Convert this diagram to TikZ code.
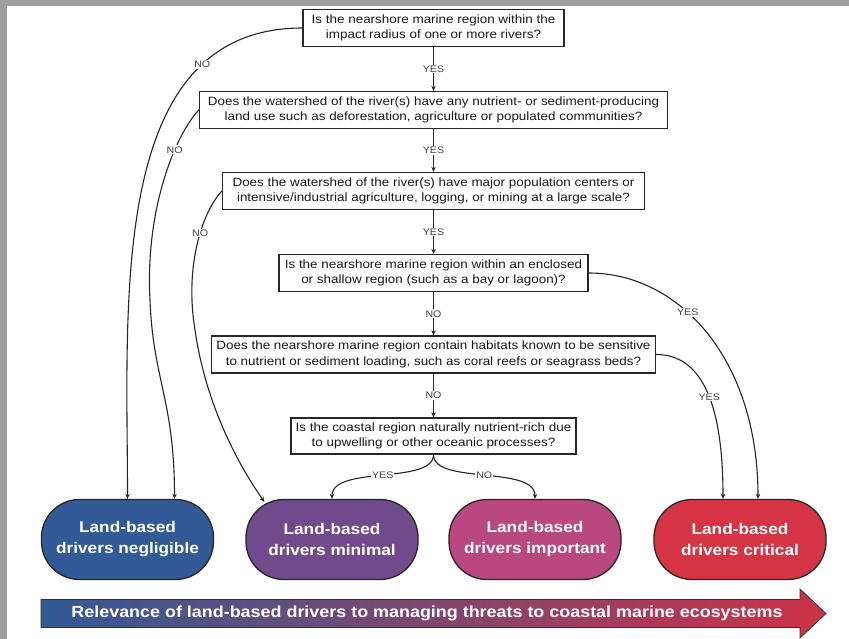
\documentclass[tikz,border=0pt]{standalone}
\usepackage{fontspec}
\setmainfont[FakeStretch=1.12]{Liberation Sans}
\usetikzlibrary{arrows.meta,calc}
\definecolor{framegray}{RGB}{158,158,158}
\definecolor{tblue}{RGB}{50,90,150}
\definecolor{tpurple}{RGB}{112,74,140}
\definecolor{tpink}{RGB}{186,72,128}
\definecolor{tred}{RGB}{213,52,68}
\definecolor{barmid}{RGB}{112,64,122}
\definecolor{barright}{RGB}{205,50,70}
\begin{document}
\begin{tikzpicture}[x=1pt,y=-1pt,
  qbox/.style={draw=black!85, line width=1.3pt, fill=white, align=center,
    minimum height=37pt, inner sep=2pt, text=black!90,
    font=\fontsize{12}{15.5}\selectfont},
  term/.style={draw=black!85, line width=1.3pt, rounded corners=38pt,
    minimum width=172pt, minimum height=80pt, align=center, text=white,
    font=\bfseries\fontsize{15.4}{21}\selectfont},
  lab/.style={fill=white, inner sep=1pt, text=black!75,
    font=\fontsize{9.5}{10}\selectfont},
  arr/.style={line width=1.1pt, draw=black!85, -{Stealth[length=5pt,width=4.5pt]}}]
\fill[framegray] (0,0) rectangle (849,639);
\fill[white] (7,6) rectangle (849,639);
\useasboundingbox (0,0) rectangle (849,639);

% question boxes
\node[qbox, minimum width=261pt] (b1) at (433.5,28)
  {Is the nearshore marine region within the\\impact radius of one or more rivers?};
\node[qbox, minimum width=468pt] (b2) at (433.5,110)
  {Does the watershed of the river(s) have any nutrient- or sediment-producing\\land use such as deforestation, agriculture or populated communities?};
\node[qbox, minimum width=422pt] (b3) at (433.5,191)
  {Does the watershed of the river(s) have major population centers or\\intensive/industrial agriculture, logging, or mining at a large scale?};
\node[qbox, minimum width=309pt] (b4) at (433.5,273)
  {Is the nearshore marine region within an enclosed\\or shallow region (such as a bay or lagoon)?};
\node[qbox, minimum width=444pt] (b5) at (433.5,354.5)
  {Does the nearshore marine region contain habitats known to be sensitive\\to nutrient or sediment loading, such as coral reefs or seagrass beds?};
\node[qbox, minimum width=285pt, minimum height=36pt] (b6) at (433.5,436)
  {Is the coastal region naturally nutrient-rich due\\to upwelling or other oceanic processes?};

% terminals
\node[term, fill=tblue] (t1) at (127.5,539.5) {Land-based\\drivers negligible};
\node[term, fill=tpurple] (t2) at (332,539.5) {Land-based\\drivers minimal};
\node[term, fill=tpink] (t3) at (535,539.5) {Land-based\\drivers important};
\node[term, fill=tred] (t4) at (740,539.5) {Land-based\\drivers critical};

\coordinate (t1b) at ($(t1.north)+(47,0)$);
\coordinate (t2in) at ($(t2.north west)+(19,3)$);
\coordinate (t4a) at ($(t4.north)+(-17,0)$);
\coordinate (t4b) at ($(t4.north)+(18,0)$);

% vertical connectors
\draw[arr] (b1.south) -- node[lab]{YES} (b2.north);
\draw[arr] (b2.south) -- node[lab]{YES} (b3.north);
\draw[arr] (b3.south) -- node[lab]{YES} (b4.north);
\draw[arr] (b4.south) -- node[lab]{NO} (b5.north);
\draw[arr] (b5.south) -- node[lab]{NO} (b6.north);

% curved connectors
\draw[arr] (b1.west) .. controls (107,28) and (127.5,303) .. (t1.north)
  node[lab, pos=0.22]{NO};
\draw[arr] (b2.west) .. controls (175,135) and (145,210) .. (150,300)
  node[lab, pos=0.33]{NO}
  .. controls (153,380) and (174.5,400) .. (t1b);
\draw[arr] (b3.west) .. controls (200,215) and (185,270) .. (195,330)
  node[lab, pos=0.4]{NO}
  .. controls (205,400) and (235,460) .. (t2in);
\draw[arr] (b4.east) .. controls (680,273) and (758,360) .. (t4b)
  node[lab, pos=0.4]{YES};
\draw[arr] (b5.east) .. controls (700,354.5) and (723,400) .. (t4a)
  node[lab, pos=0.55]{YES};
\draw[arr] (b6.south) .. controls (433.5,485) and (332,465) .. (t2.north)
  node[lab, pos=0.5]{YES};
\draw[arr] (b6.south) .. controls (433.5,485) and (535,465) .. (t3.north)
  node[lab, pos=0.5]{NO};

% bottom gradient arrow
\shadedraw[left color=tblue, middle color=barmid, right color=barright,
  draw=black!80, line width=0.8pt]
  (41,599.5) -- (800,599.5) -- (800,589) -- (826,613.5) -- (800,638)
  -- (800,627.5) -- (41,627.5) -- cycle;
\node[text=white, font=\bfseries\fontsize{16}{18}\selectfont] (bar) at (427,613.5)
  {Relevance of land-based drivers to managing threats to coastal marine ecosystems};
\end{tikzpicture}
\end{document}
